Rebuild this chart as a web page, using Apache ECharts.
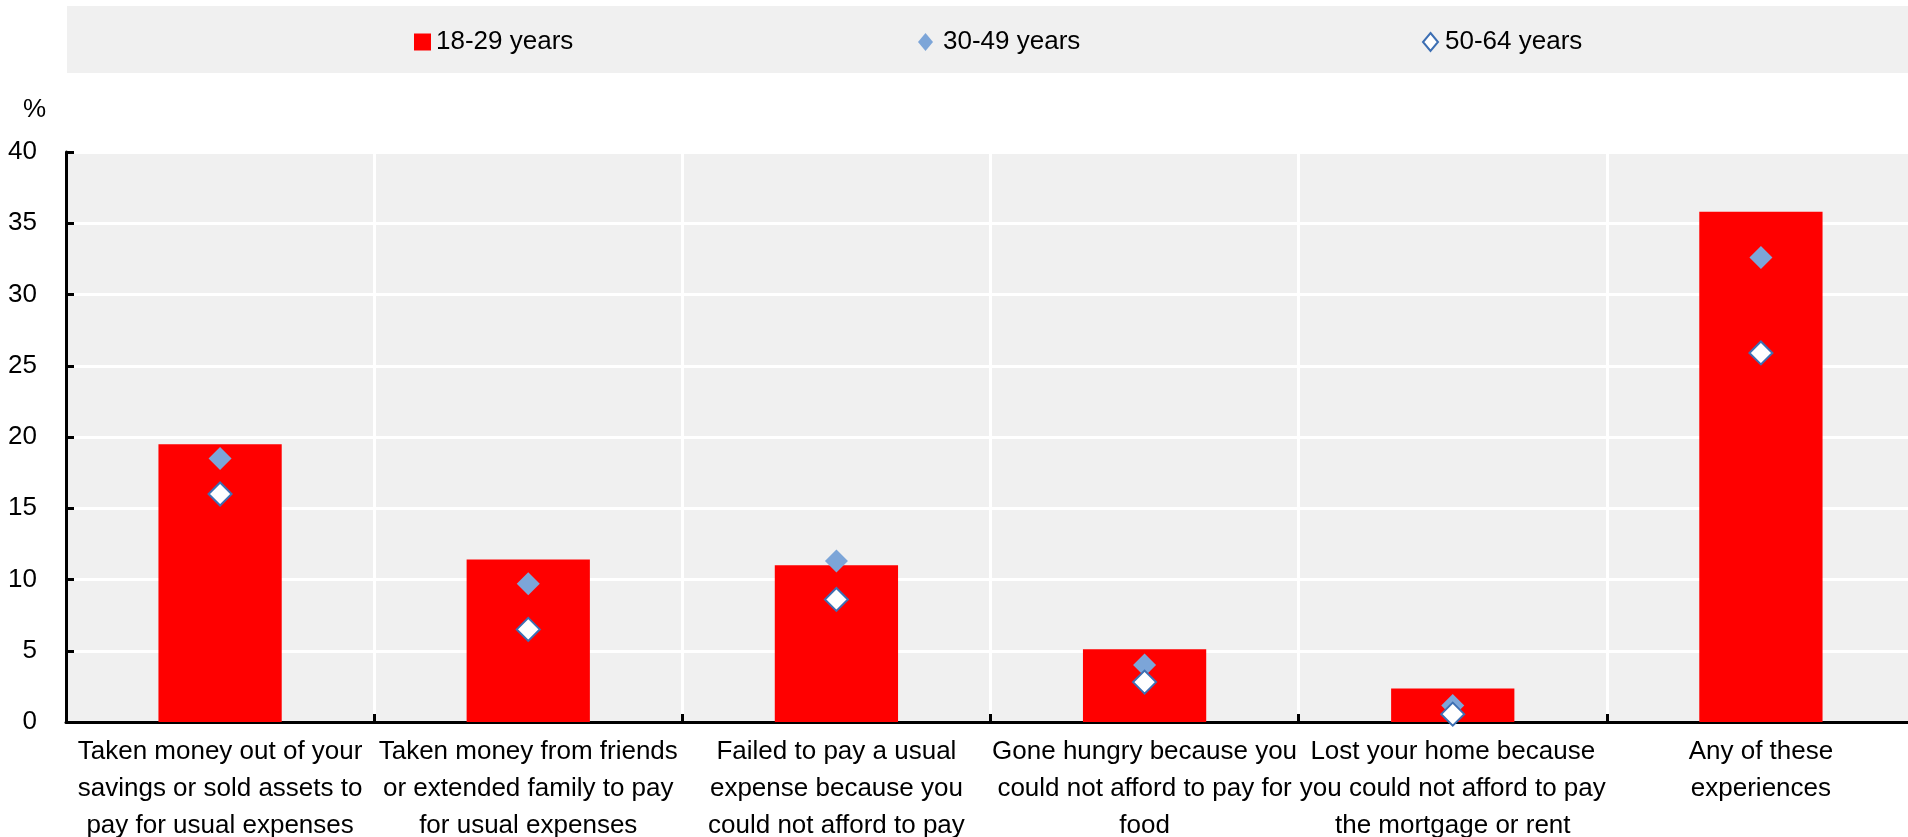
<!DOCTYPE html>
<html>
<head>
<meta charset="utf-8">
<script src="https://cdn.jsdelivr.net/npm/echarts@6/dist/echarts.min.js"></script>
<style>
html,body{margin:0;padding:0;background:#fff;}
#chart{width:1908px;height:837px;}
</style>
</head>
<body>
<div id="chart"></div>
<script>
const categories = [
  "Taken money out of your\nsavings or sold assets to\npay for usual expenses",
  "Taken money from friends\nor extended family to pay\nfor usual expenses",
  "Failed to pay a usual\nexpense because you\ncould not afford to pay",
  "Gone hungry because you\ncould not afford to pay for\nfood",
  "Lost your home because\nyou could not afford to pay\nthe mortgage or rent",
  "Any of these\nexperiences"
];
const seriesNames = ["18-29 years", "30-49 years", "50-64 years"];
const age18to29 = [19.5, 11.4, 11.0, 5.1, 2.35, 35.8];
const age30to49 = [18.5, 9.7, 11.3, 4.0, 1.15, 32.6];
const age50to64 = [16.0, 6.5, 8.6, 2.8, 0.55, 25.9];
const yTicks = { min: 0, max: 40, interval: 5 };

const FONT = "'Liberation Sans', Arial, sans-serif";
const chart = echarts.init(document.getElementById('chart'));

const legendText = { fontFamily: FONT, fontSize: 26, color: '#000', lineHeight: 26 };
const legendBase = { top: 29, padding: 0, itemGap: 0, selectedMode: false };

chart.setOption({
  animation: false,
  backgroundColor: '#ffffff',
  graphic: [
    { type: 'rect', left: 67, top: 6, z: -10, shape: { width: 1841, height: 67 }, style: { fill: '#f0f0f0' } },
    { type: 'text', left: 23, top: 97, style: { text: '%', font: "26px 'Liberation Sans', Arial, sans-serif", fill: '#000' } }
  ],
  legend: [
    Object.assign({}, legendBase, { left: 414, data: [{ name: seriesNames[0], icon: 'rect' }], itemWidth: 17, itemHeight: 17,
      textStyle: legendText }),
    Object.assign({}, legendBase, { left: 918, data: [seriesNames[1]], itemWidth: 15, itemHeight: 18,
      textStyle: Object.assign({}, legendText, { padding: [0, 0, 0, 5] }) }),
    Object.assign({}, legendBase, { left: 1422, data: [seriesNames[2]], itemWidth: 15, itemHeight: 18,
      textStyle: Object.assign({}, legendText, { padding: [0, 0, 0, 2] }) })
  ],
  grid: {
    left: 66, top: 152, right: -7, bottom: 115,
    show: true, backgroundColor: '#f0f0f0', borderWidth: 0,
    containLabel: false, outerBoundsMode: 'none'
  },
  xAxis: {
    type: 'category',
    data: categories,
    boundaryGap: true,
    axisLine: { show: true, lineStyle: { color: '#000', width: 3 } },
    axisTick: { show: true, inside: true, length: 8, alignWithLabel: false, lineStyle: { color: '#000', width: 3 } },
    splitLine: { show: true, lineStyle: { color: '#ffffff', width: 3 } },
    axisLabel: {
      interval: 0, margin: 11, fontFamily: FONT, fontSize: 26, lineHeight: 37, color: '#000', align: 'center'
    }
  },
  yAxis: {
    type: 'value',
    min: yTicks.min, max: yTicks.max, interval: yTicks.interval,
    axisLine: { show: true, lineStyle: { color: '#000', width: 3 } },
    axisTick: { show: true, inside: true, length: 8, lineStyle: { color: '#000', width: 3 } },
    splitLine: { show: true, lineStyle: { color: '#ffffff', width: 3 } },
    axisLabel: { margin: 29, fontFamily: FONT, fontSize: 26, color: '#000' }
  },
  series: [
    {
      name: seriesNames[0], type: 'bar', data: age18to29, barWidth: '40%',
      itemStyle: { color: '#ff0000' }
    },
    {
      name: seriesNames[1], type: 'scatter', data: age30to49, symbol: 'diamond', symbolSize: 23,
      itemStyle: { color: '#7ca5d8', opacity: 1 }, z: 3
    },
    {
      name: seriesNames[2], type: 'scatter', data: age50to64, symbol: 'diamond', symbolSize: 23,
      itemStyle: { color: '#ffffff', borderColor: '#3d6fb3', borderWidth: 2, opacity: 1 }, z: 4
    }
  ]
});
</script>
</body>
</html>
